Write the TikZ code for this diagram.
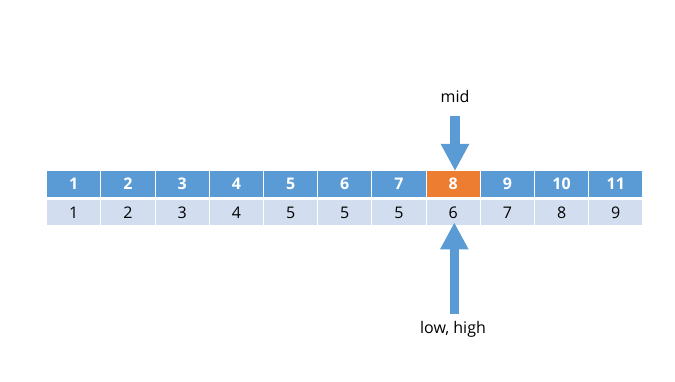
\documentclass[tikz,border=0pt]{standalone}
\usepackage{fontspec}
\setmainfont{Open Sans}
\usetikzlibrary{arrows.meta}
\definecolor{topblue}{HTML}{5B9BD5}
\definecolor{midorange}{HTML}{ED7D31}
\definecolor{lightblue}{HTML}{D2DEEF}
\begin{document}
\begin{tikzpicture}[x=1pt,y=-1pt,
  topcell/.style={fill=topblue,minimum width=53.2pt,minimum height=26pt,inner sep=0pt,anchor=north west,text=white,font=\fontsize{16}{19}\selectfont\bfseries},
  botcell/.style={fill=lightblue,minimum width=53.2pt,minimum height=25.5pt,inner sep=0pt,anchor=north west,text=black,font=\fontsize{16}{19}\selectfont},
  lbl/.style={font=\fontsize{16}{19}\selectfont,text=black,inner sep=0pt},
  bigarrow/.style={draw=topblue,line width=9.5pt,-{Triangle[width=26.5pt,length=27pt]}}]
\useasboundingbox (0,0) rectangle (675,382);
\foreach \i/\t/\b in {1/1/1,2/2/2,3/3/3,4/4/4,5/5/5,6/6/5,7/7/5,8/8/6,9/9/7,10/10/8,11/11/9}{
  \node[topcell] (t\i) at ({47+(\i-1)*54.2},171) {\t};
  \node[botcell] (b\i) at ({47+(\i-1)*54.2},199.5) {\b};
}
\node[topcell,fill=midorange] (t8hl) at (t8.north west) {8};
\node[lbl] (mid) at (455,97) {mid};
\coordinate (midstart) at (455,116);
\draw[bigarrow] (midstart) -- (midstart |- t8hl.north);
\node[lbl] (lh) at (453,329) {low, high};
\coordinate (lowstart) at (454.3,314);
\draw[bigarrow] (lowstart) -- ([yshift=3pt]lowstart |- b8.south);
\end{tikzpicture}
\end{document}
